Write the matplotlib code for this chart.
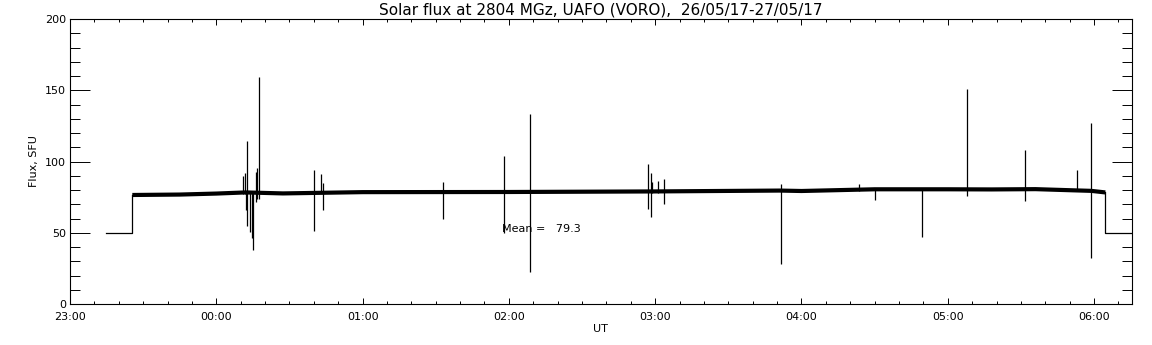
import matplotlib
matplotlib.use("Agg")
import matplotlib.pyplot as plt
from matplotlib.ticker import MultipleLocator, FuncFormatter

# hours relative to 00:00 UT on 27/05 (negative = evening of 26/05)
base_t = [-0.574, -0.25, 0.0, 0.2, 0.456, 1.0, 2.0, 3.0, 3.85, 4.0,
          4.5, 5.0, 5.3, 5.6, 5.85, 5.98, 6.077]
base_flux = [76.5, 76.8, 77.5, 78.3, 77.6, 78.5, 78.6, 79.0, 79.6, 79.3,
             80.5, 80.5, 80.4, 80.6, 79.8, 79.4, 78.3]

# calibration level (no signal) before and after the session
cal_before_t = [-0.754, -0.574, -0.574]
cal_before_flux = [50, 50, 76.5]
cal_after_t = [6.077, 6.077, 6.256]
cal_after_flux = [78.3, 50, 50]

# spikes: time, low, high
spike_t = [0.183, 0.194, 0.203, 0.212, 0.232, 0.244, 0.253, 0.273, 0.280,
           0.290, 0.670, 0.718, 0.731, 1.552, 1.970, 2.144, 2.953, 2.971,
           2.978, 3.019, 3.058, 3.858, 4.395, 4.505, 4.822, 5.133, 5.530,
           5.885, 5.981]
spike_lo = [77, 77, 65.7, 54.8, 50.6, 46.6, 38.2, 71.5, 74,
            74, 51.3, 78, 66.2, 59.7, 50, 22.6, 66.9, 61,
            78, 78, 70.4, 28.4, 79, 72.7, 47, 75.5, 72.2,
            79, 32]
spike_hi = [89.5, 92, 78, 114.7, 78, 78, 78, 92.5, 95.6,
            159.4, 94.3, 90.9, 84.6, 85.3, 104.2, 133.6, 98.4, 92.1,
            85.5, 86, 87.4, 84.4, 84.4, 80, 80, 150.8, 108.2,
            94.2, 127]

mean_flux = 79.3

fig = plt.figure(figsize=(11.52, 3.45), dpi=100)
ax = fig.add_axes([70 / 1152, 41 / 345, 1061.5 / 1152, 285 / 345])

ax.plot(base_t, base_flux, color="black", lw=3.0, solid_capstyle="butt")
ax.plot(cal_before_t, cal_before_flux, color="black", lw=0.9)
ax.plot(cal_after_t, cal_after_flux, color="black", lw=0.9)
ax.vlines(spike_t, spike_lo, spike_hi, color="black", lw=0.9)

ax.text(1.953, 52.4, f"Mean =   {mean_flux}", fontsize=8, va="center", ha="left")

ax.set_xlim(-1, 6.256)
ax.set_ylim(0, 200)


def hhmm(v, pos):
    h = int(round(v)) % 24
    return f"{h:02d}:00"


ax.xaxis.set_major_locator(MultipleLocator(1))
ax.xaxis.set_minor_locator(MultipleLocator(1 / 6))
ax.xaxis.set_major_formatter(FuncFormatter(hhmm))
ax.yaxis.set_major_locator(MultipleLocator(50))
ax.yaxis.set_minor_locator(MultipleLocator(10))

ax.tick_params(axis="x", which="major", direction="in", length=4.3, width=0.7,
               top=True, labelsize=8, pad=6)
ax.tick_params(axis="x", which="minor", direction="in", length=2.2, width=0.7, top=True)
ax.tick_params(axis="y", which="major", direction="in", length=14.4, width=0.7,
               right=True, labelsize=8, pad=3)
ax.tick_params(axis="y", which="minor", direction="in", length=7.2, width=0.7, right=True)
for s in ax.spines.values():
    s.set_linewidth(0.8)

ax.set_title("Solar flux at 2804 MGz, UAFO (VORO),  26/05/17-27/05/17", fontsize=11, pad=3)
ax.set_xlabel("UT", fontsize=8, labelpad=1)
ax.set_ylabel("Flux, SFU", fontsize=8, labelpad=4)

fig.savefig("out.png", dpi=100)
